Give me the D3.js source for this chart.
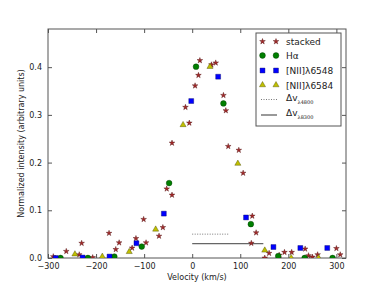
<!DOCTYPE html>
<html>
<head>
<meta charset="utf-8">
<script src="https://d3js.org/d3.v7.min.js"></script>
<style>
  body { margin: 0; background: white; }
  text { font-family: "DejaVu Sans", sans-serif; fill: #222; }
</style>
</head>
<body>
<div id="chart"></div>
<script>
// stacked profile
var stackV = [-289,-262,-235,-230,-207,-173,-159,-152,-125,-117,-101,-96,-69,-61,-53,-42,-42,-14,-6,6,13,16,40,49,65,70,75,97,106,125,133,123,151,160,180,181,192,207,235,242,250,261,300,308];
var stackI = [0.003,0.014,0.007,0.031,0.001,0.052,0.018,0.032,0.021,0.041,0.081,0.032,0.046,0.064,0.145,0.241,0.132,0.316,0.283,0.361,0.383,0.414,0.405,0.409,0.341,0.309,0.234,0.226,0.178,0.088,0.053,0.031,0.0,0.010,0.0,0.006,0.012,0.012,0.019,0.005,0.002,0.007,0.020,0.007];
// H alpha
var haV = [-274,-217,-162,-105,-48,8,65,122,179,234,292];
var haI = [0.0,0.0,0.003,0.024,0.157,0.401,0.324,0.071,0.004,0.0,0.0];
// [NII] 6548
var n48V = [-284,-228,-172,-116,-59,-2,54,112,169,225,281];
var n48I = [0.0,0.001,0.003,0.031,0.093,0.329,0.380,0.085,0.023,0.021,0.021];
// [NII] 6584
var n84V = [-244,-187,-131,-76,-19,37,95,151,206,263];
var n84I = [0.008,0.003,0.013,0.060,0.279,0.401,0.198,0.016,0.0,0.0];
// velocity widths
var dv4800 = {v: [0, 75], y: 0.05};
var dv8300 = {v: [0, 148], y: 0.03};

var xTicks = [-300,-200,-100,0,100,200,300];
var yTicks = [0.0,0.1,0.2,0.3,0.4];

var W = 384, H = 288;
var margin = {top: 29, right: 38, bottom: 30, left: 48};
var width = W - margin.left - margin.right,
    height = H - margin.top - margin.bottom;

var svg = d3.select("#chart").append("svg")
    .attr("width", W).attr("height", H);

var g = svg.append("g")
    .attr("transform", "translate(" + margin.left + "," + margin.top + ")");

var x = d3.scaleLinear().domain([-300, 320]).range([0, width]);
var y = d3.scaleLinear().domain([0, 0.48]).range([height, 0]);

g.append("clipPath").attr("id", "clip")
  .append("rect").attr("width", width).attr("height", height);

var frameColor = "#555";

// axes, ticks inside on all sides
function styleAxis(sel) {
  sel.select(".domain").remove();
  sel.selectAll(".tick line").attr("stroke", frameColor);
  sel.selectAll(".tick text").style("font-size", "8px").attr("fill", "#222");
}
g.append("g").attr("transform", "translate(0," + height + ")")
  .call(d3.axisBottom(x).tickValues(xTicks).tickSizeInner(-4).tickSizeOuter(0).tickPadding(5))
  .call(styleAxis);
g.append("g")
  .call(d3.axisTop(x).tickValues(xTicks).tickSizeInner(-4).tickSizeOuter(0).tickFormat(""))
  .call(styleAxis);
g.append("g")
  .call(d3.axisLeft(y).tickValues(yTicks).tickFormat(d3.format(".1f")).tickSizeInner(-4).tickSizeOuter(0).tickPadding(6))
  .call(styleAxis);
g.append("g").attr("transform", "translate(" + width + ",0)")
  .call(d3.axisRight(y).tickValues(yTicks).tickSizeInner(-4).tickSizeOuter(0).tickFormat(""))
  .call(styleAxis);

g.append("rect").attr("width", width).attr("height", height)
  .attr("fill", "none").attr("stroke", frameColor).attr("stroke-width", 1);

// axis labels
g.append("text")
  .attr("x", width / 2).attr("y", height + 22)
  .attr("text-anchor", "middle").style("font-size", "8px")
  .text("Velocity (km/s)");
g.append("text")
  .attr("transform", "rotate(-90)")
  .attr("x", -height / 2).attr("y", -24)
  .attr("text-anchor", "middle").style("font-size", "8px")
  .text("Normalized intensity (arbitrary units)");

var plot = g.append("g").attr("clip-path", "url(#clip)");

// velocity width lines
plot.append("line")
  .attr("x1", x(dv4800.v[0])).attr("x2", x(dv4800.v[1]))
  .attr("y1", y(dv4800.y)).attr("y2", y(dv4800.y))
  .attr("stroke", "#555").attr("stroke-width", 0.8).attr("stroke-dasharray", "1,1.5");
plot.append("line")
  .attr("x1", x(dv8300.v[0])).attr("x2", x(dv8300.v[1]))
  .attr("y1", y(dv8300.y)).attr("y2", y(dv8300.y))
  .attr("stroke", "#666").attr("stroke-width", 1.2);

var series = [
  {name: "stacked", v: stackV, i: stackI, sym: d3.symbolStar, size: 10, fill: "#a52a2a", stroke: "#4a0a0a"},
  {name: "Ha", v: haV, i: haI, sym: d3.symbolCircle, size: 26, fill: "#008000", stroke: "#003000"},
  {name: "n48", v: n48V, i: n48I, sym: d3.symbolSquare, size: 24, fill: "#0000ff", stroke: "#000060"},
  {name: "n84", v: n84V, i: n84I, sym: d3.symbolTriangle, size: 16, fill: "#bfbf00", stroke: "#444400"}
];

series.forEach(function(s) {
  var pts = s.v.map(function(v, k) { return {v: v, i: s.i[k]}; });
  plot.selectAll(null).data(pts).enter().append("path")
    .attr("d", d3.symbol().type(s.sym).size(s.size))
    .attr("transform", function(d) { return "translate(" + x(d.v) + "," + y(d.i) + ")"; })
    .attr("fill", s.fill).attr("stroke", s.stroke).attr("stroke-width", 0.4);
});

// legend
var lx = 256 - margin.left, ly = 33 - margin.top;
var leg = g.append("g").attr("transform", "translate(" + lx + "," + ly + ")");
leg.append("rect").attr("width", 85).attr("height", 93)
  .attr("fill", "white").attr("stroke", "#555").attr("stroke-width", 1);

var rowY = [8.5, 22.5, 37.5, 52, 66.5, 82];
var labels = ["stacked", "H\u03b1", "[NII]\u03bb6548", "[NII]\u03bb6584"];
series.forEach(function(s, k) {
  [6.5, 20].forEach(function(mx) {
    leg.append("path")
      .attr("d", d3.symbol().type(s.sym).size(s.size))
      .attr("transform", "translate(" + mx + "," + rowY[k] + ")")
      .attr("fill", s.fill).attr("stroke", s.stroke).attr("stroke-width", 0.4);
  });
  leg.append("text").attr("x", 30).attr("y", rowY[k] + 3.5)
    .style("font-size", "9px").text(labels[k]);
});

leg.append("line").attr("x1", 5).attr("x2", 21).attr("y1", rowY[4]).attr("y2", rowY[4])
  .attr("stroke", "#555").attr("stroke-width", 0.8).attr("stroke-dasharray", "1,1.5");
leg.append("line").attr("x1", 5).attr("x2", 21).attr("y1", rowY[5]).attr("y2", rowY[5])
  .attr("stroke", "#555").attr("stroke-width", 1.2);

[["\u03bb4800", rowY[4]], ["\u03bb8300", rowY[5]]].forEach(function(r) {
  var t = leg.append("text").attr("x", 30).attr("y", r[1] + 1).style("font-size", "9px");
  t.append("tspan").text("\u0394v");
  t.append("tspan").attr("dy", 3).style("font-size", "5px").style("font-family", "DejaVu Serif").text(r[0]);
});
</script>
</body>
</html>
